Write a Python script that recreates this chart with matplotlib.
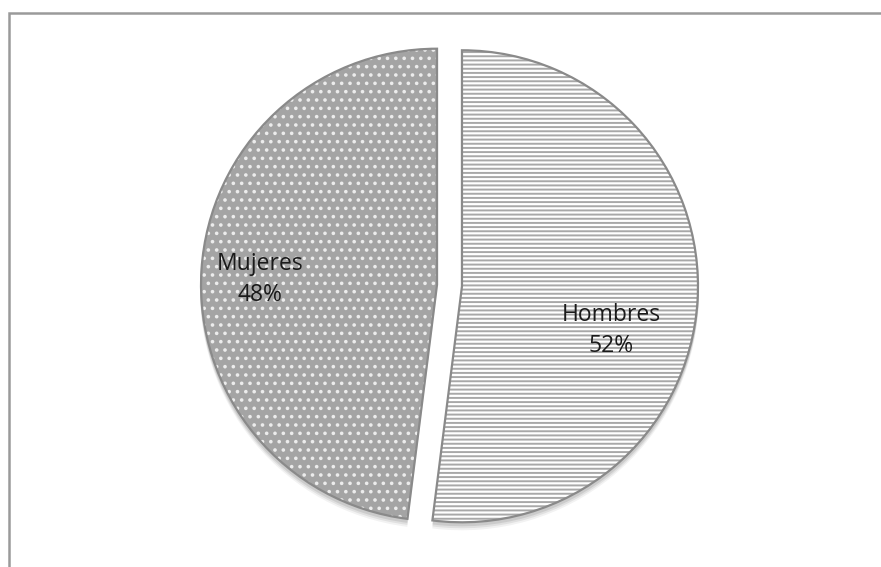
import matplotlib.pyplot as plt
from matplotlib.patches import Rectangle
import numpy as np

plt.rcParams["font.family"] = ["Open Sans", "DejaVu Sans"]

labels = ["Hombres", "Mujeres"]
shares = [52, 48]

# slice styling
faces = ["white", "#a4a4a4"]
hatches = ["----", ".."]
hatch_colors = ["#a8a8a8", "#ececec"]
outline = "#8a8a8a"

# where each text sits inside its slice (fraction of radius, angle in deg)
label_r = [0.66, 0.75]
label_ang = [-16.5, 178.2]

W, H = 881, 567
fig = plt.figure(figsize=(W / 100, H / 100), dpi=100)
ax = fig.add_axes([0, 0, 1, 1])

center = (449.5, H - 285.5)
radius = 236
# pie() offsets exploded wedges in data units, not radius fractions
explode = [12.5, 12.5]

plt.rcParams["hatch.linewidth"] = 1.4

# soft shadow below the slices
for dy, a in [(7, 0.05), (5, 0.07), (3, 0.09)]:
    ax.pie(shares, startangle=90, counterclock=False, explode=explode,
           center=(center[0], center[1] - dy), radius=radius + 1,
           colors=["black"] * 2,
           wedgeprops=dict(linewidth=0, alpha=a), frame=True)

wedges, _ = ax.pie(shares, startangle=90, counterclock=False,
                   explode=explode, center=center, radius=radius,
                   colors=faces, frame=True)
for w, h, hc in zip(wedges, hatches, hatch_colors):
    w.set_hatch(h)
    w.set_edgecolor(hc)
    w.set_linewidth(0)

ax.pie(shares, startangle=90, counterclock=False,
       explode=explode, center=center, radius=radius, frame=True,
       wedgeprops=dict(fill=False, edgecolor=outline, linewidth=1.6))

ax.set_xlim(0, W)
ax.set_ylim(0, H)
ax.set_aspect("equal")
ax.axis("off")

for w, name, val, fr, ang in zip(wedges, labels, shares, label_r, label_ang):
    cx, cy = w.center
    t = np.deg2rad(ang)
    ax.text(cx + fr * radius * np.cos(t), cy + fr * radius * np.sin(t),
            f"{name}\n{val}%", ha="center", va="center", fontsize=16.5,
            color="#1a1a1a", linespacing=1.4)

# chart area border
fig.add_artist(Rectangle((8.5 / W, -0.1), 1.2, (H - 12.5) / H + 0.1,
                         transform=fig.transFigure, fill=False,
                         edgecolor="#9a9a9a", linewidth=1.8))

fig.savefig("out.png", dpi=100)
